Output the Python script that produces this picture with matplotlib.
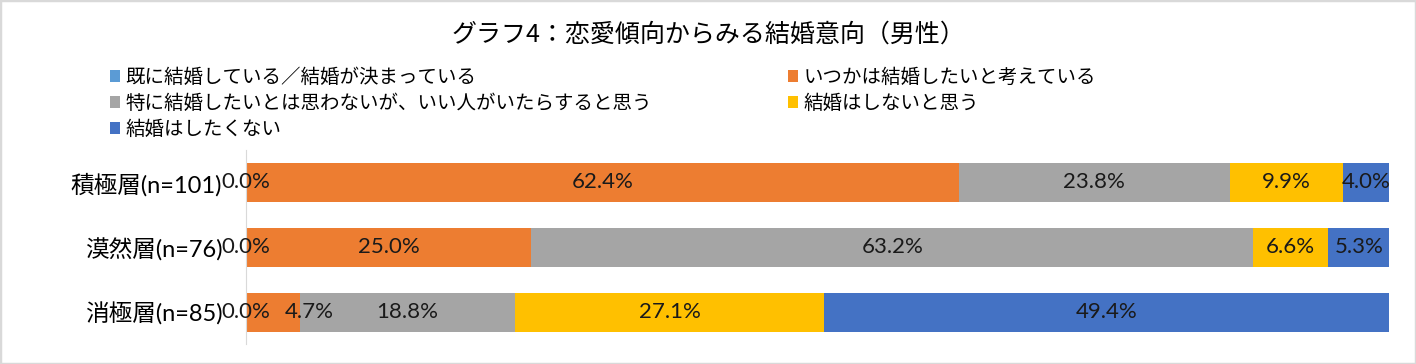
import matplotlib
matplotlib.use("Agg")
import matplotlib.pyplot as plt
from matplotlib.patches import Rectangle

# --- data ---
groups = ["積極層(n=101)", "漠然層(n=76)", "消極層(n=85)"]
series = [
    "既に結婚している／結婚が決まっている",
    "いつかは結婚したいと考えている",
    "特に結婚したいとは思わないが、いい人がいたらすると思う",
    "結婚はしないと思う",
    "結婚はしたくない",
]
married = [0.0, 0.0, 0.0]
someday = [62.4, 25.0, 4.7]
if_good = [23.8, 63.2, 18.8]
wont = [9.9, 6.6, 27.1]
dont_want = [4.0, 5.3, 49.4]
values = [married, someday, if_good, wont, dont_want]
colors = ["#5B9BD5", "#ED7D31", "#A5A5A5", "#FFC000", "#4472C4"]

jp = ["Noto Sans CJK JP", "DejaVu Sans"]
num_font = ["Lato", "DejaVu Sans"]

fig = plt.figure(figsize=(14.16, 3.64), dpi=100)
W, H = 1416, 364
ax = fig.add_axes([246 / W, 1 - 344 / H, (1389 - 246) / W, (344 - 150) / H])

ypos = list(range(len(groups)))
totals = [sum(v[i] for v in values) for i in ypos]
left = [0.0] * len(groups)
handles = []
for name, vals, c in zip(series, values, colors):
    widths = [v / t * 100 for v, t in zip(vals, totals)]
    b = ax.barh(ypos, widths, left=left, height=0.6, color=c, label=name)
    handles.append(b)
    for i, (w, v) in enumerate(zip(widths, vals)):
        lbl = f"{v:.1f}%"
        if 0 < w < 8 and left[i] < 1:
            # narrow segment right after the 0.0% label: nudge it right
            ax.annotate(lbl, (left[i], ypos[i]), xytext=(28, 0),
                        textcoords="offset points", ha="left", va="center",
                        fontsize=16, family=num_font, color="#1a1a1a")
        else:
            ax.text(left[i] + w / 2, ypos[i], lbl, ha="center", va="center",
                    fontsize=16, family=num_font, color="#1a1a1a")
    left = [l + w for l, w in zip(left, widths)]

ax.set_xlim(0, 100)
ax.set_ylim(2.485, -0.5)
ax.set_yticks(ypos)
ax.set_yticklabels(groups, family=["Lato", "Noto Sans CJK JP"], fontsize=17)
ax.tick_params(axis="y", length=0, pad=17)
ax.set_xticks([])
for s in ["top", "right", "bottom"]:
    ax.spines[s].set_visible(False)
ax.spines["left"].set_color("#d9d9d9")

fig.text(0.5, 1 - 35 / H, "グラフ4：恋愛傾向からみる結婚意向（男性）", ha="center", va="center",
         fontsize=18, family=jp, color="#000000")

order = [0, 2, 4, 1, 3]
fig.legend([handles[i] for i in order], [series[i] for i in order],
           loc="upper left", bbox_to_anchor=(110 / W, 1 - 67 / H), ncol=2,
           frameon=False, prop={"family": jp, "size": 14}, handlelength=0.5,
           handleheight=0.6, handletextpad=0.3, labelspacing=0.26,
           columnspacing=7.0, borderpad=0, borderaxespad=0)

fig.patches.append(Rectangle((0, 0), 1, 1, transform=fig.transFigure, fill=False,
                             edgecolor="#d9d9d9", linewidth=2.5))

fig.savefig("out.png", dpi=100)
